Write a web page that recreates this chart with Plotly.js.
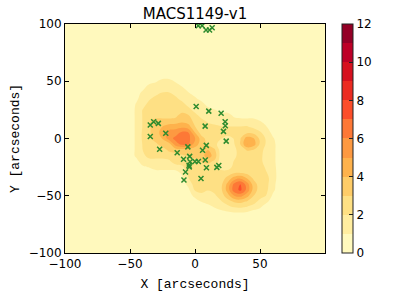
<!DOCTYPE html>
<html>
<head>
<meta charset="utf-8">
<script src="https://cdn.plot.ly/plotly-3.0.1.min.js"></script>
<style>
  html, body { margin: 0; padding: 0; background: #fff; }
  #chart { width: 399px; height: 299px; }
</style>
</head>
<body>
<div id="chart"></div>
<script>
// Grid coordinates (arcseconds)
const xGrid = [-100, -50, -45, -40, -35, -30, -25, -20, -15, -10, -5, 0, 5, 10, 15, 20, 25, 30, 35, 40, 45, 50, 55, 60, 65, 100];
const yGrid = [-100, -70, -65, -60, -55, -50, -45, -40, -35, -30, -25, -20, -15, -10, -5, 0, 5, 10, 15, 20, 25, 30, 35, 40, 45, 50, 55, 100];

// Density values, one row per yGrid value (columns follow xGrid)
const density = [
  [0.5, 0.5,0.5,0.5,0.5,0.5,0.5,0.5,0.5,0.5,0.5,0.5,0.5,0.5,0.5,0.5,0.5,0.5,0.5,0.5,0.5,0.5,0.5,0.5,0.5, 0.5],
  [0.5, 0.5,0.5,0.5,0.5,0.5,0.5,0.5,0.5,0.5,0.5,0.5,0.5,0.5,0.5,0.5,0.5,0.5,0.5,0.5,0.5,0.5,0.5,0.5,0.5, 0.5],
  [0.5, 0.5,0.5,0.5,0.5,0.5,0.5,0.5,0.5,0.5,0.5,0.5,0.5,0.5,0.5,0.5,0.8,0.9,0.9,0.8,0.5,0.5,0.5,0.5,0.5, 0.5],
  [0.5, 0.5,0.5,0.5,0.5,0.5,0.5,0.5,0.5,0.5,0.5,0.5,0.5,0.5,1.05,1.5,1.63,2.02,2.1,1.9,1.5,1.1,0.5,0.5,0.5, 0.5],
  [0.5, 0.5,0.5,0.5,0.5,0.5,0.5,0.5,0.5,0.5,0.5,0.5,1.05,1.5,1.5,1.9,2.56,3.13,3.32,2.91,2.5,1.6,1.2,0.5,0.5, 0.5],
  [0.5, 0.5,0.5,0.5,0.5,0.5,0.5,0.5,0.5,0.5,0.5,1.3,1.5,1.5,1.8,2.5,3.53,4.97,5.37,4.4,3.02,2.5,1.95,0.8,0.5, 0.5],
  [0.5, 0.5,0.5,0.5,0.5,0.5,0.5,0.5,0.5,0.5,0.8,2.1,2.5,2.05,2.3,2.76,4.4,6.52,7.22,5.68,3.6,2.5,2.2,1.2,0.5, 0.5],
  [0.5, 0.5,0.5,0.5,0.5,0.5,0.5,0.5,0.5,0.5,1.3,2.5,2.5,2.5,2.5,2.71,4.25,6.25,7.06,5.52,3.53,2.5,2.3,1.3,0.5, 0.5],
  [0.5, 0.5,0.5,0.5,0.5,0.5,0.5,0.5,0.5,0.7,1.95,2.5,2.5,2.5,2.5,2.5,3.32,4.53,4.97,4.02,2.87,2.5,2.3,1.5,0.5, 0.5],
  [0.5, 0.5,0.5,0.5,0.5,0.5,0.5,0.5,0.6,1.2,2.3,2.5,2.5,2.5,2.5,2.5,2.5,2.87,2.99,2.71,2.5,2.5,2.05,1.5,0.5, 0.5],
  [0.5, 0.5,0.5,0.85,1.05,1.5,1.5,1.5,1.5,1.8,2.5,2.5,2.5,2.5,2.2,1.5,1.5,2.3,2.5,2.5,2.5,2.5,1.8,1.4,0.5, 0.5],
  [0.5, 0.5,0.7,1.5,1.5,1.5,1.5,1.8,2.5,2.5,2.5,2.5,3.05,3.3,2.8,1.5,1.5,2.05,2.5,2.5,2.5,2.3,1.5,1.3,0.5, 0.5],
  [0.5, 0.5,1.2,1.7,2.5,2.5,2.5,2.5,2.5,2.9,3.05,3.5,3.6,4.5,3.6,1.5,1.5,1.7,2.5,2.5,2.5,2.3,1.5,1.3,0.5, 0.5],
  [0.5, 0.5,1.2,2.05,2.5,2.5,2.5,3.2,3.5,3.5,3.5,3.5,3.5,4.05,3.2,1.5,1.5,1.7,2.5,3.07,2.98,2.5,1.5,1.3,0.5, 0.5],
  [0.5, 0.5,1.2,2.1,2.5,2.8,3.5,3.5,5.5,6.3,6.05,4.5,3.5,2.8,2.3,1.5,1.5,1.9,3.07,5.05,4.5,2.84,1.83,1.3,0.5, 0.5],
  [0.5, 0.5,1.2,2.2,2.8,3.5,4.05,5.5,6.3,6.7,6.3,5.05,3.5,2.5,2.5,2.05,1.5,2.05,2.98,4.5,4.1,2.78,1.81,1.1,0.5, 0.5],
  [0.5, 0.5,1.2,2.2,2.9,3.5,4.5,5.5,5.5,6.3,6.05,4.05,2.5,2.5,2.5,2.5,2.5,2.5,2.5,2.84,2.78,2.16,1.53,0.7,0.5, 0.5],
  [0.5, 0.5,1.2,2.1,2.9,3.5,4.05,4.5,4.7,4.8,4.5,3.05,2.5,2.5,2.4,2.1,2.05,2.05,2.05,2.1,1.8,1.5,1.05,0.5,0.5, 0.5],
  [0.5, 0.5,1.2,2.1,2.9,3.5,3.5,3.5,3.5,3.8,3.5,2.7,2.5,1.8,1.5,1.5,1.5,1.5,1.5,1.5,1.5,1.05,0.5,0.5,0.5, 0.5],
  [0.5, 0.5,1.2,2.1,2.5,2.5,2.5,2.5,2.7,3.5,3.05,2.5,1.5,1.5,1.5,1.5,1.5,0.8,0.6,0.5,0.5,0.5,0.5,0.5,0.5, 0.5],
  [0.5, 0.5,1.2,2.1,2.5,2.5,2.5,2.5,2.5,2.5,2.5,1.5,1.5,1.5,1.05,0.5,0.5,0.5,0.5,0.5,0.5,0.5,0.5,0.5,0.5, 0.5],
  [0.5, 0.5,1.1,1.5,2.5,2.5,2.5,2.5,2.5,2.5,1.5,1.5,1.5,0.5,0.5,0.5,0.5,0.5,0.5,0.5,0.5,0.5,0.5,0.5,0.5, 0.5],
  [0.5, 0.5,0.8,1.5,1.8,2.5,2.5,2.5,2.3,1.5,1.5,1.2,0.5,0.5,0.5,0.5,0.5,0.5,0.5,0.5,0.5,0.5,0.5,0.5,0.5, 0.5],
  [0.5, 0.5,0.5,1.3,1.5,1.5,2.05,2.05,1.5,1.5,1.05,0.5,0.5,0.5,0.5,0.5,0.5,0.5,0.5,0.5,0.5,0.5,0.5,0.5,0.5, 0.5],
  [0.5, 0.5,0.5,0.6,1.5,1.5,1.5,1.5,1.5,1.05,0.5,0.5,0.5,0.5,0.5,0.5,0.5,0.5,0.5,0.5,0.5,0.5,0.5,0.5,0.5, 0.5],
  [0.5, 0.5,0.5,0.5,0.5,0.9,1.3,1.3,0.9,0.5,0.5,0.5,0.5,0.5,0.5,0.5,0.5,0.5,0.5,0.5,0.5,0.5,0.5,0.5,0.5, 0.5],
  [0.5, 0.5,0.5,0.5,0.5,0.5,0.5,0.5,0.5,0.5,0.5,0.5,0.5,0.5,0.5,0.5,0.5,0.5,0.5,0.5,0.5,0.5,0.5,0.5,0.5, 0.5],
  [0.5, 0.5,0.5,0.5,0.5,0.5,0.5,0.5,0.5,0.5,0.5,0.5,0.5,0.5,0.5,0.5,0.5,0.5,0.5,0.5,0.5,0.5,0.5,0.5,0.5, 0.5]
];

// Green cross markers (arcseconds)
const markerX = [0.9, 10.6, 20.1, 23.2, 23.3, 7.8, -34.4, -31.8, -28.2, -34.4, -22.5, 21.9, 24.0, -27.2, -5.5, 8.7, 5.8, -13.7, 7.9, -8.8, -4.1, -3.8, 0.0, 2.6, -4.6, -4.4, 8.8, 16.8, 18.3, -7.3, 4.6, -8.5, 2.5, 5.5, 8.5, 11.2, 13.2];
const markerY = [28.0, 23.9, 22.0, 14.7, 11.1, 10.8, 11.8, 14.7, 13.2, 1.7, 4.6, 6.2, -2.3, -9.4, -7.3, -6.0, -10.2, -12.4, -18.7, -18.2, -15.6, -20.3, -20.1, -20.1, -23.3, -24.8, -25.6, -25.2, -23.6, -29.3, -35.0, -36.3, 98.5, 98.5, 94.8, 94.8, 96.8];

// Contour levels and band colours (one colour per band 0-1 ... 11-12)
const levelStart = 0;
const levelEnd = 12;
const levelStep = 1;
const bandColors = ['rgb(255,249,189)', 'rgb(255,237,160)', 'rgb(254,224,132)', 'rgb(254,204,104)',
                    'rgb(254,178,76)', 'rgb(253,153,65)', 'rgb(253,120,54)', 'rgb(252,78,42)',
                    'rgb(235,43,33)', 'rgb(214,17,31)', 'rgb(189,0,38)', 'rgb(148,0,38)'];
const colorbarTicks = [0, 2, 4, 6, 8, 10, 12];
const xTicks = [-100, -50, 0, 50];
const yTicks = [-100, -50, 0, 50, 100];

// Plotly samples contour fills at (level + size/2); map band k to position (k+1)/(nBands+1)
const nLevels = Math.floor((levelEnd - levelStart) / levelStep) + 1;
const contourScale = [[0, bandColors[0]]];
bandColors.forEach((c, k) => contourScale.push([(k + 1) / nLevels, c]));
contourScale.push([1, bandColors[bandColors.length - 1]]);

// Stepped scale for the discrete colour bar 0..12
const stepScale = [];
bandColors.forEach((c, k) => {
  stepScale.push([k / bandColors.length, c]);
  stepScale.push([(k + 1) / bandColors.length, c]);
});

const font = 'DejaVu Sans';
const labelFont = 'Liberation Mono';
const traces = [
  {
    type: 'contour',
    x: xGrid, y: yGrid, z: density,
    autocontour: false,
    contours: { start: levelStart, end: levelEnd, size: levelStep, coloring: 'fill', showlines: false },
    line: { width: 0, smoothing: 1.1 },
    colorscale: contourScale,
    showscale: false,
    hoverinfo: 'skip'
  },
  {
    type: 'scatter', mode: 'markers',
    x: markerX, y: markerY,
    marker: { symbol: 'x-thin-open', size: 5, color: '#2e8b2e', line: { width: 1.5, color: '#2e8b2e' } },
    hoverinfo: 'skip', showlegend: false
  },
  {
    type: 'scatter', mode: 'markers',
    x: [-1000, -1000], y: [-1000, -1000],
    marker: {
      color: [levelStart, levelEnd], cmin: levelStart, cmax: levelEnd,
      colorscale: stepScale, showscale: true, opacity: 0, size: 1,
      colorbar: {
        x: 1.064, xanchor: 'left', xpad: 0,
        y: 0.5, yanchor: 'middle', ypad: 0,
        len: 1, lenmode: 'fraction',
        thickness: 11, thicknessmode: 'pixels',
        outlinewidth: 1, outlinecolor: '#222',
        tickvals: colorbarTicks, ticks: 'inside', ticklen: 4, tickcolor: '#222',
        tickfont: { family: font, size: 12, color: '#000' }
      }
    },
    hoverinfo: 'skip', showlegend: false
  }
];

const axisCommon = {
  ticks: 'inside', ticklen: 4, tickwidth: 1, tickcolor: '#000',
  showline: true, linecolor: '#000', linewidth: 1, mirror: 'ticks',
  showgrid: false, zeroline: false,
  tickfont: { family: font, size: 12, color: '#000' }
};

const layout = {
  width: 399, height: 299,
  margin: { l: 65, r: 74, t: 24, b: 46, pad: 0, autoexpand: false },
  paper_bgcolor: '#fff', plot_bgcolor: '#fff',
  showlegend: false,
  title: {
    text: 'MACS1149-v1',
    font: { family: font, size: 15, color: '#000' },
    x: 0.5, xref: 'paper', xanchor: 'center',
    y: 1 - 14 / 299, yref: 'container', yanchor: 'middle'
  },
  xaxis: Object.assign({}, axisCommon, {
    range: [-100, 100], tickvals: xTicks,
    title: { text: 'X [arcseconds]', font: { family: labelFont, size: 13, color: '#000' }, standoff: 8 }
  }),
  yaxis: Object.assign({}, axisCommon, {
    range: [-100, 100], tickvals: yTicks, automargin: true,
    title: { text: 'Y [arcseconds]', font: { family: labelFont, size: 13, color: '#000' }, standoff: 6 }
  })
};

Plotly.newPlot('chart', traces, layout, { displayModeBar: false, staticPlot: true });
</script>
</body>
</html>
